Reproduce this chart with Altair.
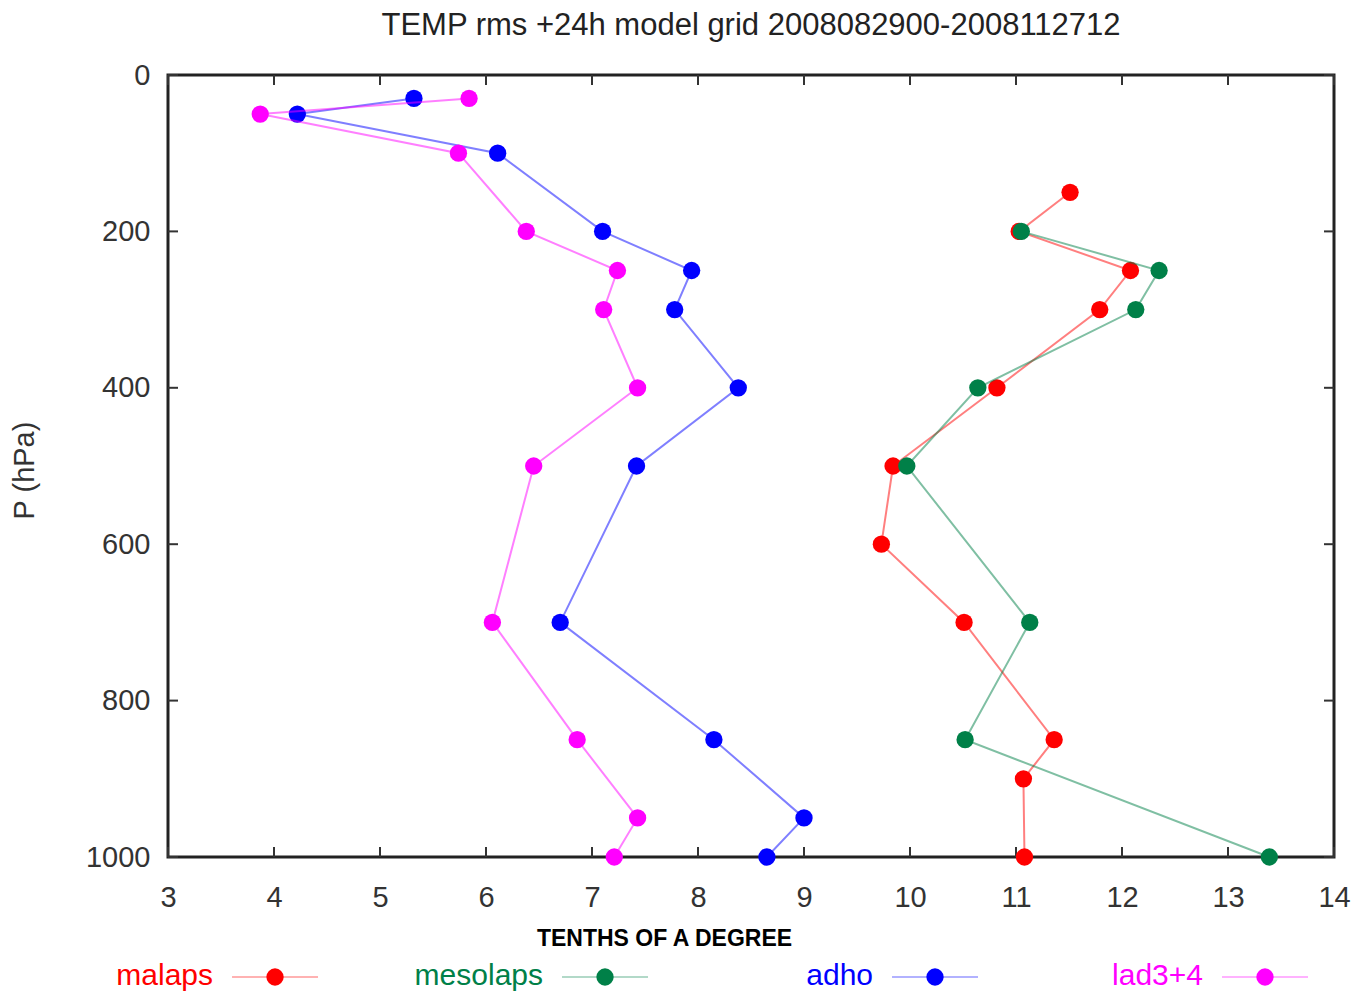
import altair as alt
import pandas as pd

series_names = ["malaps", "mesolaps", "adho", "lad3+4"]
series_colors = ["#ff0000", "#008048", "#0000ff", "#ff00ff"]

malaps_p = [150, 200, 250, 300, 400, 500, 600, 700, 850, 900, 1000]
malaps_v = [11.51, 11.03, 12.08, 11.79, 10.82, 9.84, 9.73, 10.51, 11.36, 11.07, 11.08]

mesolaps_p = [200, 250, 300, 400, 500, 700, 850, 1000]
mesolaps_v = [11.05, 12.35, 12.13, 10.64, 9.97, 11.13, 10.52, 13.39]

adho_p = [30, 50, 100, 200, 250, 300, 400, 500, 700, 850, 950, 1000]
adho_v = [5.32, 4.22, 6.11, 7.10, 7.94, 7.78, 8.38, 7.42, 6.70, 8.15, 9.00, 8.65]

lad_p = [30, 50, 100, 200, 250, 300, 400, 500, 700, 850, 950, 1000]
lad_v = [5.84, 3.87, 5.74, 6.38, 7.24, 7.11, 7.43, 6.45, 6.06, 6.86, 7.43, 7.21]

x_ticks = [3, 4, 5, 6, 7, 8, 9, 10, 11, 12, 13, 14]
y_ticks = [0, 200, 400, 600, 800, 1000]

title_text = "TEMP rms +24h model grid 2008082900-2008112712"
x_title = "TENTHS OF A DEGREE"
y_title = "P (hPa)"

W, H = 1166, 782
FONT = "Liberation Sans"

rows = []
for name, ps, vs in [("malaps", malaps_p, malaps_v), ("mesolaps", mesolaps_p, mesolaps_v),
                     ("adho", adho_p, adho_v), ("lad3+4", lad_p, lad_v)]:
    for i, (p, v) in enumerate(zip(ps, vs)):
        rows.append({"series": name, "p": p, "v": v, "i": i})
df = pd.DataFrame(rows)

color_scale = alt.Scale(domain=series_names, range=series_colors)
xscale = alt.Scale(domain=[3, 14], nice=False, zero=False)
yscale = alt.Scale(domain=[0, 1000], reverse=True, nice=False, zero=False)

x_enc = alt.X("v:Q", scale=xscale,
              axis=alt.Axis(values=x_ticks, format="d", title=x_title, grid=False, domain=False,
                            ticks=False, tickSize=0, labelFontSize=29, labelFont=FONT,
                            labelColor="#333", labelPadding=26, labelFlush=False,
                            titleFont=FONT,
                            titleFontSize=23, titleFontWeight="bold", titleColor="#000",
                            titleX=496, titleY=88, titleAlign="center",
                            titleBaseline="alphabetic"))
y_enc = alt.Y("p:Q", scale=yscale,
              axis=alt.Axis(values=y_ticks, format="d", title=y_title, grid=False, domain=False,
                            ticks=False, tickSize=0, labelFontSize=29, labelFont=FONT,
                            labelColor="#333", labelPadding=18, labelFlush=False,
                            titleFont=FONT,
                            titleFontSize=29, titleFontWeight="normal", titleColor="#333",
                            titleX=-144, titleY=395, titleAlign="center",
                            titleBaseline="middle", titleAngle=270))

base = alt.Chart(df)
layers = []
for name in series_names:
    sub = base.transform_filter(alt.datum.series == name)
    line = sub.mark_line(strokeWidth=2, opacity=0.5).encode(
        x=x_enc, y=y_enc, order=alt.Order("i:Q"),
        color=alt.Color("series:N", scale=color_scale, legend=None))
    pts = sub.mark_circle(size=300, opacity=1).encode(
        x=x_enc, y=y_enc,
        color=alt.Color("series:N", scale=color_scale, legend=None))
    layers += [line, pts]

xt = pd.DataFrame({"t": x_ticks})
yt = pd.DataFrame({"t": y_ticks})
tick_style = dict(color="#333", strokeWidth=2)
ticks = [
    alt.Chart(xt).mark_rule(**tick_style).encode(
        x=alt.X("t:Q", scale=xscale), y=alt.value(H), y2=alt.value(H - 10)),
    alt.Chart(xt).mark_rule(**tick_style).encode(
        x=alt.X("t:Q", scale=xscale), y=alt.value(0), y2=alt.value(10)),
    alt.Chart(yt).mark_rule(**tick_style).encode(
        y=alt.Y("t:Q", scale=yscale), x=alt.value(0), x2=alt.value(10)),
    alt.Chart(yt).mark_rule(**tick_style).encode(
        y=alt.Y("t:Q", scale=yscale), x=alt.value(W), x2=alt.value(W - 10)),
]

main = alt.layer(*ticks, *layers)

leg_df = pd.DataFrame({"series": series_names})
leg_x = alt.X("series:N", sort=series_names,
              scale=alt.Scale(type="point", domain=series_names, padding=0.2667, align=0.608),
              axis=None)
leg_color = alt.Color("series:N", scale=color_scale, legend=None)
LY = 902
leg_rule = alt.Chart(leg_df).mark_rule(strokeWidth=2, opacity=0.3, xOffset=-43, x2Offset=43).encode(
    x=leg_x, x2="series:N", y=alt.value(LY), color=leg_color)
leg_dot = alt.Chart(leg_df).mark_circle(size=300, opacity=1).encode(
    x=leg_x, y=alt.value(LY), color=leg_color)
leg_text = alt.Chart(leg_df).mark_text(align="right", baseline="middle", dx=-62, dy=-1,
                                       fontSize=30, font=FONT).encode(
    x=leg_x, y=alt.value(LY), text="series:N", color=leg_color)
legend = alt.layer(leg_rule, leg_dot, leg_text)

chart = alt.layer(main, legend).resolve_scale(x="independent").properties(
    width=W, height=H,
    title=alt.Title(title_text, fontSize=31, font=FONT, color="#222", fontWeight="normal",
                    anchor="middle", offset=19),
    autosize=alt.AutoSizeParams(type="none"),
    padding={"left": 160, "top": 67, "right": 20, "bottom": 135},
).configure_view(stroke="#222", strokeWidth=3)

chart.save("out.html", embed_options={"renderer": "svg", "actions": False})
